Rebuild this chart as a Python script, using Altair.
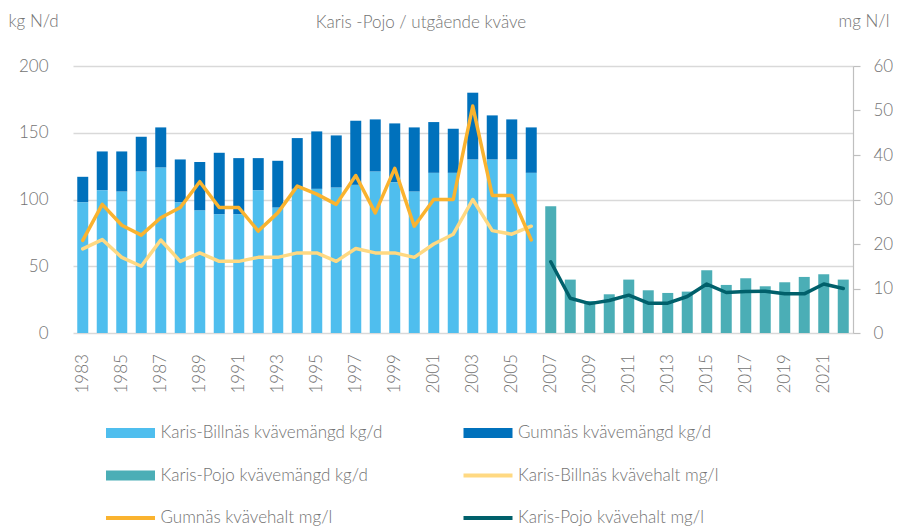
import altair as alt
import pandas as pd

years = list(range(1983, 2023))
label_years = list(range(1983, 2022, 2))
years_a = list(range(1983, 2007))
years_b = list(range(2007, 2023))

billnas_kg = [98, 107, 106, 121, 124, 98, 92, 89, 89, 107, 94, 108,
              108, 109, 111, 121, 113, 106, 120, 120, 130, 130, 130, 120]
gumnas_kg = [19, 29, 30, 26, 30, 32, 36, 46, 42, 24, 35, 38,
             43, 39, 48, 39, 44, 48, 38, 33, 50, 33, 30, 34]
pojo_kg = [95, 40, 24, 29, 40, 32, 30, 31, 47, 36, 41, 35, 38, 42, 44, 40]

billnas_mg = [18.9, 21, 17, 15, 20.9, 16.1, 18, 16.1, 16.1, 17, 17, 18,
              18, 16.1, 19, 18, 18, 17, 20, 22.2, 30, 23, 22.2, 24]
gumnas_mg = [20.8, 28.9, 24.2, 22, 25.9, 28.2, 34, 28.2, 28.2, 22.9, 27, 33,
             31.2, 28.9, 35.4, 27, 37, 24, 30, 30, 51, 30.9, 30.9, 20.9]
pojo_mg = [16, 7.8, 6.6, 7.3, 8.5, 6.7, 6.7, 8.2, 11, 9.1, 9.3, 9.4, 8.8, 8.8, 11, 10]

names = ["Karis-Billnäs kvävemängd kg/d", "Gumnäs kvävemängd kg/d",
         "Karis-Pojo kvävemängd kg/d", "Karis-Billnäs kvävehalt mg/l",
         "Gumnäs kvävehalt mg/l", "Karis-Pojo kvävehalt mg/l"]
kinds = ["bar", "bar", "bar", "line", "line", "line"]
colors = ["#4FBEEE", "#0071BC", "#4BAEB6", "#FFD982", "#FAB32F", "#00606B"]

FONT = "Lato"
TXT = "#737373"
FW = 300

bar_rows = []
for y, v in zip(years_a, billnas_kg):
    bar_rows.append({"year": y, "series": names[0], "value": v, "order": 0})
for y, v in zip(years_a, gumnas_kg):
    bar_rows.append({"year": y, "series": names[1], "value": v, "order": 1})
for y, v in zip(years_b, pojo_kg):
    bar_rows.append({"year": y, "series": names[2], "value": v, "order": 0})
bars_df = pd.DataFrame(bar_rows)

line_rows = []
for y, v in zip(years_a, billnas_mg):
    line_rows.append({"year": y, "series": names[3], "value": v})
for y, v in zip(years_a, gumnas_mg):
    line_rows.append({"year": y, "series": names[4], "value": v})
for y, v in zip(years_b, pojo_mg):
    line_rows.append({"year": y, "series": names[5], "value": v})
lines_df = pd.DataFrame(line_rows)

legend_df = pd.DataFrame({
    "name": names,
    "kind": kinds,
    "col": [i % 2 for i in range(len(names))],
    "row": [i // 2 for i in range(len(names))],
})

color_scale = alt.Scale(domain=names, range=colors)

x_enc = alt.X(
    "year:O",
    scale=alt.Scale(domain=years, paddingInner=0.436, paddingOuter=0.218),
    axis=alt.Axis(values=label_years, labelAngle=-90, labelAlign="left",
                  labelBaseline="middle", labelPadding=60, domain=False,
                  ticks=False, grid=False, title=None, labelFontSize=17,
                  labelColor=TXT, labelFont=FONT, labelFontWeight=FW),
)

left_axis = alt.Axis(orient="left", values=[0, 50, 100, 150, 200], grid=True,
                     gridColor="#D9D9D9", gridWidth=1.5, domain=False, ticks=False,
                     labelPadding=25, labelFontSize=17, labelColor=TXT, labelFont=FONT,
                     labelFontWeight=FW,
                     title="kg N/d", titleAngle=0, titleAlign="left",
                     titleBaseline="middle", titleX=-65, titleY=-45,
                     titleFontSize=17, titleFontWeight=FW, titleColor=TXT,
                     titleFont=FONT)

right_axis = alt.Axis(orient="right", values=[0, 10, 20, 30, 40, 50, 60], grid=False,
                      domain=True, domainColor="#BFBFBF", domainWidth=1.2,
                      ticks=True, tickColor="#BFBFBF", tickSize=7, tickWidth=1.2,
                      labelPadding=13, labelFontSize=17, labelColor=TXT, labelFont=FONT,
                      labelFontWeight=FW,
                      title="mg N/l", titleAngle=0, titleAlign="left",
                      titleBaseline="middle", titleX=-15, titleY=-45,
                      titleFontSize=17, titleFontWeight=FW, titleColor=TXT,
                      titleFont=FONT)

bars = alt.Chart(bars_df).mark_bar().encode(
    x=x_enc,
    y=alt.Y("value:Q", stack="zero", scale=alt.Scale(domain=[0, 200]), axis=left_axis),
    color=alt.Color("series:N", scale=color_scale, legend=None),
    order=alt.Order("order:Q"),
)

lines = alt.Chart(lines_df).mark_line(strokeWidth=3.5, strokeJoin="round", strokeCap="round").encode(
    x=x_enc,
    y=alt.Y("value:Q", scale=alt.Scale(domain=[0, 60]), axis=right_axis),
    color=alt.Color("series:N", scale=color_scale, legend=None),
    detail="series:N",
)

main = alt.layer(bars, lines).resolve_scale(y="independent").properties(
    width=780, height=267,
    title=alt.TitleParams("Karis -Pojo / utgående kväve", fontSize=17, color=TXT,
                          font=FONT, fontWeight=FW, anchor="middle",
                          frame="group", dx=-42, baseline="middle", offset=-28),
)

bar_path = "M-1,-0.2H1V0.2H-1Z"
line_path = "M-1,-0.08H1V0.08H-1Z"

lx = alt.X("col:Q", scale=alt.Scale(domain=[0, 1], range=[57.5, 415]), axis=None)
ly = alt.Y("row:Q", scale=alt.Scale(domain=[0, 2], range=[0, 85]), axis=None)

sym = alt.Chart(legend_df).mark_point(filled=True, opacity=1, strokeWidth=0, size=2401).encode(
    x=lx, y=ly,
    shape=alt.Shape("kind:N", scale=alt.Scale(domain=["bar", "line"], range=[bar_path, line_path]), legend=None),
    color=alt.Color("name:N", scale=color_scale, legend=None),
)
txt = alt.Chart(legend_df).mark_text(align="left", baseline="middle", dx=30, fontSize=17,
                                     color=TXT, font=FONT, fontWeight=FW).encode(
    x=lx, y=ly, text="name:N",
)
legend_chart = alt.layer(sym, txt).properties(width=780, height=85)

chart = alt.vconcat(main, legend_chart, spacing=100, bounds="flush").properties(
    padding={"left": 0, "top": 4, "right": 0, "bottom": 0}
).configure(font=FONT).configure_view(stroke=None, strokeWidth=0)

chart.save("out.html", embed_options={"renderer": "svg", "actions": False})
